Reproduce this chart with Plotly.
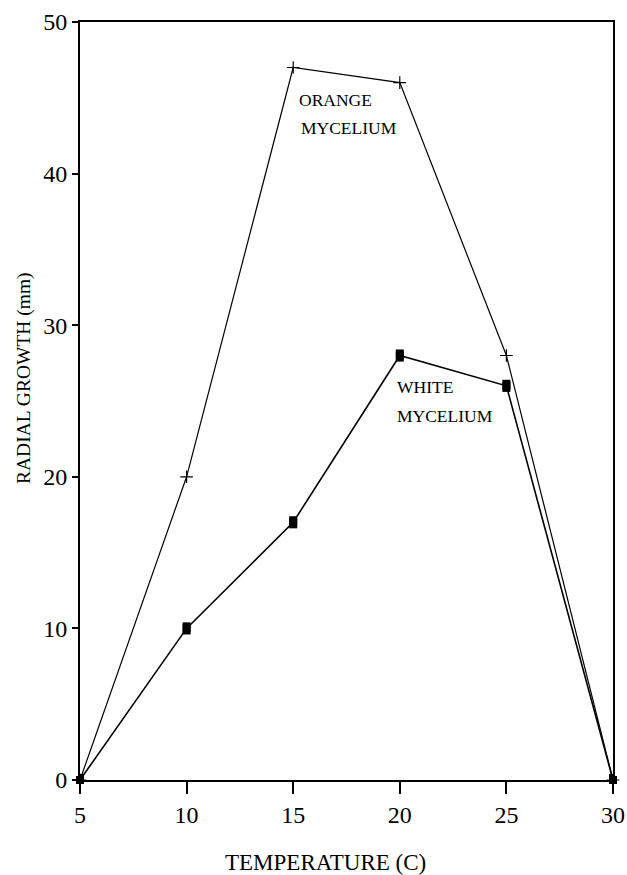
import plotly.graph_objects as go

# Radial growth of mycelium versus incubation temperature
temperature = [5, 10, 15, 20, 25, 30]
orange_growth = [0, 20, 47, 46, 28, 0]
white_growth = [0, 10, 17, 28, 26, 0]
white_err = [0.4, 0.4, 0.4, 0.4, 0.4, 0.4]

x_ticks = [5, 10, 15, 20, 25, 30]
y_ticks = [0, 10, 20, 30, 40, 50]

SERIF = "Liberation Serif, Times New Roman, serif"

# plot area in pixels
L, R, T, B = 80, 613, 22, 780

fig = go.Figure()

fig.add_trace(go.Scatter(
    x=temperature, y=orange_growth, mode="lines+markers",
    name="ORANGE MYCELIUM",
    line=dict(color="black", width=1.2),
    marker=dict(symbol="cross-thin", size=9, color="black",
                line=dict(width=1.2, color="black")),
    cliponaxis=False,
))

fig.add_trace(go.Scatter(
    x=temperature, y=white_growth, mode="lines+markers",
    name="WHITE MYCELIUM",
    line=dict(color="black", width=1.6),
    marker=dict(symbol="square", size=8, color="black"),
    error_y=dict(type="data", array=white_err, visible=True,
                 thickness=8, width=0, color="black"),
    cliponaxis=False,
))

labels = [
    (15.16, 44.85, "ORANGE"),
    (15.25, 43.0, "MYCELIUM"),
    (19.79, 25.92, "WHITE"),
    (19.79, 24.0, "MYCELIUM"),
]
for lx, ly, txt in labels:
    fig.add_annotation(x=lx, y=ly, text=txt, showarrow=False,
                       xanchor="left", yanchor="middle",
                       font=dict(family=SERIF, size=17.5, color="black"))

# axis titles placed as paper-anchored text
fig.add_annotation(x=(325 - L) / (R - L), y=-(862 - B) / (B - T),
                   xref="paper", yref="paper", text="TEMPERATURE (C)",
                   showarrow=False, xanchor="center", yanchor="middle",
                   font=dict(family=SERIF, size=23, color="black"))
fig.add_annotation(x=-(L - 24) / (R - L), y=(B - 378) / (B - T),
                   xref="paper", yref="paper", text="RADIAL GROWTH (mm)",
                   showarrow=False, textangle=-90,
                   xanchor="center", yanchor="middle",
                   font=dict(family=SERIF, size=19.5, color="black"))

fig.update_layout(
    width=627, height=875,
    margin=dict(l=L, r=627 - R, t=T, b=875 - B),
    paper_bgcolor="white", plot_bgcolor="white",
    showlegend=False,
    font=dict(family=SERIF, color="black"),
)

fig.update_xaxes(
    range=[5, 30], tickvals=x_ticks, ticktext=[str(v) for v in x_ticks],
    showgrid=False, zeroline=False, automargin=False,
    showline=True, linecolor="black", linewidth=2, mirror=True,
    ticks="outside", ticklen=12, tickwidth=1.5, tickcolor="black",
    tickfont=dict(family=SERIF, size=24, color="black"),
)
fig.update_yaxes(
    range=[0, 50], tickvals=y_ticks, ticktext=[str(v) for v in y_ticks],
    showgrid=False, zeroline=False, automargin=False,
    showline=True, linecolor="black", linewidth=2, mirror=True,
    ticks="outside", ticklen=6, tickwidth=1.5, tickcolor="black",
    tickfont=dict(family=SERIF, size=24, color="black"),
)

fig.write_html("out.html")
